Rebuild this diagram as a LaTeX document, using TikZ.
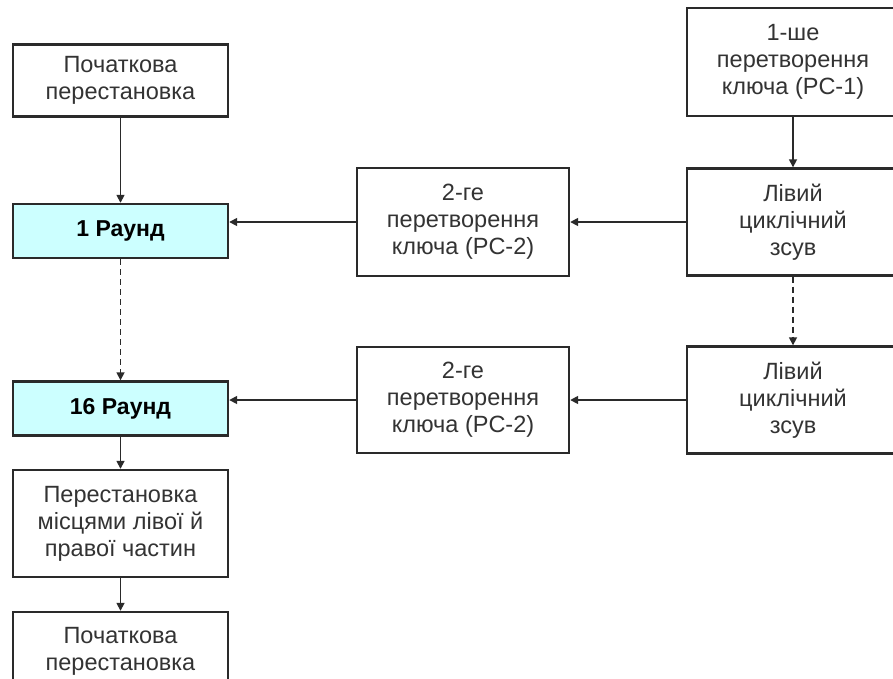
\documentclass[tikz,border=0pt]{standalone}
\usepackage{fontspec}
\setmainfont{Liberation Sans}
\usetikzlibrary{arrows.meta}
\definecolor{edge}{HTML}{2A2A2A}
\definecolor{txt}{HTML}{333333}
\definecolor{roundfill}{HTML}{CCFFFF}
\tikzset{
  blk/.style={draw=edge, line width=2.4pt, fill=white, text=txt, align=center,
    inner sep=0pt, font=\fontsize{23.5}{27}\selectfont},
  roundbox/.style={blk, fill=roundfill, text=black, font=\fontsize{23}{27}\selectfont\bfseries},
  flow/.style={draw=edge, line width=1.6pt, -{Triangle[length=8pt,width=8pt]}},
  flowdash/.style={flow, dash pattern=on 6pt off 4pt}
}
\begin{document}
\begin{tikzpicture}[x=1pt, y=-1pt]
\useasboundingbox (0,0) rectangle (893,678);
\fill[white] (0,0) rectangle (893,678);
\clip (0,0) rectangle (893,678);

% left column: main encryption path
\node[blk, minimum width=215pt, minimum height=72pt] (init) at (120.5,80.5) {Початкова\\перестановка};
\node[roundbox, minimum width=215pt, minimum height=54pt] (r1) at (120.5,231) {1 Раунд};
\node[roundbox, minimum width=215pt, minimum height=54pt] (r16) at (120.5,408.5) {16 Раунд};
\node[blk, minimum width=215pt, minimum height=107pt] (swap) at (120.5,523.5) {Перестановка\\місцями лівої й\\правої частин};
\node[blk, minimum width=215pt, minimum height=78pt] (final) at (120.5,651) {Початкова\\перестановка};

% middle column: subkey compression
\node[blk, minimum width=212pt, minimum height=108pt] (pc2a) at (463,222) {2-ге\\перетворення\\ключа (PC-2)};
\node[blk, minimum width=212pt, minimum height=106pt] (pc2b) at (463,400) {2-ге\\перетворення\\ключа (PC-2)};

% right column: key schedule
\node[blk, minimum width=212pt, minimum height=108pt] (pc1) at (793,62) {1-ше\\перетворення\\ключа (PC-1)};
\node[blk, minimum width=212pt, minimum height=107pt] (shift1) at (793,222) {Лівий\\циклічний\\зсув};
\node[blk, minimum width=212pt, minimum height=107pt] (shift2) at (793,400) {Лівий\\циклічний\\зсув};

% connectors
\draw[flow] (init) -- (r1);
\draw[flowdash] (r1) -- (r16);
\draw[flow] (r16) -- (swap);
\draw[flow] (swap) -- (final);

\draw[flow] (pc1) -- (shift1);
\draw[flowdash] (shift1) -- (shift2);

\draw[flow] (shift1) -- (pc2a);
\draw[flow] (shift2) -- (pc2b);
\draw[flow] (pc2a.west) -- (pc2a.west -| r1.east);
\draw[flow] (pc2b.west) -- (pc2b.west -| r16.east);
\end{tikzpicture}
\end{document}
